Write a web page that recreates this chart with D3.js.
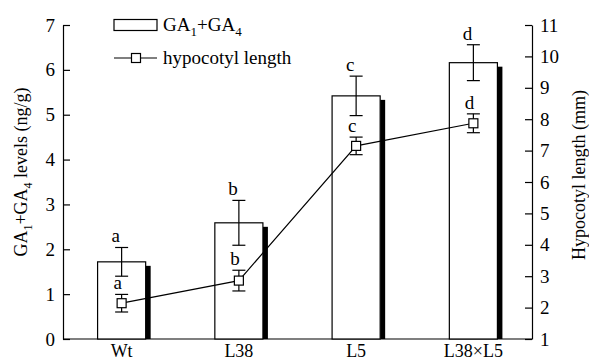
<!DOCTYPE html>
<html>
<head>
<meta charset="utf-8">
<script src="https://cdn.jsdelivr.net/npm/d3@7"></script>
<style>
  body { margin: 0; background: #fff; }
  svg { display: block; font-family: "Liberation Serif", "DejaVu Serif", serif; }
  .axis path, .axis line { stroke: #000; stroke-width: 1.2; }
</style>
</head>
<body>
<div id="container"></div>
<script>
const categories = ['Wt', 'L38', 'L5', 'L38×L5'];
const gaLevels = [1.72, 2.59, 5.42, 6.16];
const gaErr = [0.32, 0.5, 0.44, 0.4];
const gaLetters = ['a', 'b', 'c', 'd'];
const hypLength = [2.14, 2.86, 7.15, 7.87];
const hypErr = [0.28, 0.33, 0.28, 0.3];
const hypLetters = ['a', 'b', 'c', 'd'];
const leftTicks = [0, 1, 2, 3, 4, 5, 6, 7];
const rightTicks = [1, 2, 3, 4, 5, 6, 7, 8, 9, 10, 11];

const width = 589, height = 362;
const plotL = 63, plotR = 532, plotT = 25, plotB = 339;
const cap = 6.5;
const shadowW = 5, shadowDrop = 4;
const serif = '"Liberation Serif", "DejaVu Serif", serif';

const svg = d3.select('#container').append('svg')
    .attr('width', width)
    .attr('height', height);

const x = d3.scaleBand().domain(categories).range([plotL, plotR])
    .paddingInner(0.59).paddingOuter(0.295);
const yL = d3.scaleLinear().domain([0, 7]).range([plotB, plotT]);
const yR = d3.scaleLinear().domain([1, 11]).range([plotB, plotT]);

const data = categories.map((c, i) => ({
    cat: c, ga: gaLevels[i], gaE: gaErr[i], gaL: gaLetters[i],
    hyp: hypLength[i], hypE: hypErr[i], hypL: hypLetters[i]
}));

// axes, ticks pointing inward
svg.append('g').attr('class', 'axis')
    .attr('transform', `translate(${plotL} 0)`)
    .call(d3.axisLeft(yL).tickValues(leftTicks).tickFormat(d3.format('d'))
        .tickSize(-7).tickSizeOuter(0).tickPadding(8));
svg.append('g').attr('class', 'axis')
    .attr('transform', `translate(${plotR} 0)`)
    .call(d3.axisRight(yR).tickValues(rightTicks).tickFormat(d3.format('d'))
        .tickSize(-7).tickSizeOuter(0).tickPadding(8));

svg.selectAll('.axis text')
    .style('fill', '#000')
    .style('font-family', serif)
    .style('font-size', '19px');

svg.append('line')
    .attr('x1', plotL).attr('x2', plotR)
    .attr('y1', plotB).attr('y2', plotB)
    .style('stroke', '#000').style('stroke-width', 1.2);

svg.append('g').selectAll('text').data(categories).enter().append('text')
    .attr('x', (d) => x(d) + x.bandwidth() / 2)
    .attr('y', 357)
    .attr('text-anchor', 'middle')
    .style('font-size', '18px')
    .text((d) => d);

// bars with a drop shadow on the right
const bars = svg.append('g').selectAll('g').data(data).enter().append('g');

bars.append('rect')
    .attr('x', (d) => x(d.cat) + x.bandwidth())
    .attr('y', (d) => yL(d.ga) + shadowDrop)
    .attr('width', shadowW)
    .attr('height', (d) => plotB - yL(d.ga) - shadowDrop)
    .style('fill', '#000');

bars.append('rect')
    .attr('x', (d) => x(d.cat))
    .attr('y', (d) => yL(d.ga))
    .attr('width', x.bandwidth())
    .attr('height', (d) => plotB - yL(d.ga))
    .style('fill', '#fff')
    .style('stroke', '#000')
    .style('stroke-width', 1.2);

function errorBars(sel, cx, lo, hi) {
    sel.append('line')
        .attr('x1', cx).attr('x2', cx).attr('y1', lo).attr('y2', hi);
    sel.append('line')
        .attr('x1', (d) => cx(d) - cap).attr('x2', (d) => cx(d) + cap).attr('y1', lo).attr('y2', lo);
    sel.append('line')
        .attr('x1', (d) => cx(d) - cap).attr('x2', (d) => cx(d) + cap).attr('y1', hi).attr('y2', hi);
    sel.selectAll('line').style('stroke', '#000').style('stroke-width', 1.2);
}

const mid = (d) => x(d.cat) + x.bandwidth() / 2;

errorBars(bars.append('g'), mid, (d) => yL(d.ga - d.gaE), (d) => yL(d.ga + d.gaE));

bars.append('text')
    .attr('x', (d) => mid(d) - 6)
    .attr('y', (d) => yL(d.ga + d.gaE) - 5)
    .attr('text-anchor', 'middle')
    .style('font-size', '19px')
    .text((d) => d.gaL);

// hypocotyl length line
const line = d3.line().x(mid).y((d) => yR(d.hyp));
svg.append('path').datum(data)
    .attr('d', line)
    .style('fill', 'none')
    .style('stroke', '#000')
    .style('stroke-width', 1.2);

const pts = svg.append('g').selectAll('g').data(data).enter().append('g');
errorBars(pts.append('g'), mid, (d) => yR(d.hyp - d.hypE), (d) => yR(d.hyp + d.hypE));
pts.append('rect')
    .attr('x', (d) => mid(d) - 4.5)
    .attr('y', (d) => yR(d.hyp) - 4.5)
    .attr('width', 9).attr('height', 9)
    .style('fill', '#fff').style('stroke', '#000').style('stroke-width', 1.2);
pts.append('text')
    .attr('x', (d) => mid(d) - 4)
    .attr('y', (d) => yR(d.hyp + d.hypE) - 5)
    .attr('text-anchor', 'middle')
    .style('font-size', '19px')
    .text((d) => d.hypL);

// axis titles
const lt = svg.append('text')
    .attr('transform', 'translate(27 172) rotate(-90)')
    .attr('text-anchor', 'middle')
    .style('font-size', '18px');
lt.append('tspan').text('GA');
lt.append('tspan').attr('dy', 5).style('font-size', '12px').text('1');
lt.append('tspan').attr('dy', -5).text('+GA');
lt.append('tspan').attr('dy', 5).style('font-size', '12px').text('4');
lt.append('tspan').attr('dy', -5).text(' levels (ng/g)');

svg.append('text')
    .attr('transform', 'translate(585 175) rotate(-90)')
    .attr('text-anchor', 'middle')
    .style('font-size', '18px')
    .text('Hypocotyl length (mm)');

// legend
const lg = svg.append('g');
lg.append('rect')
    .attr('x', 114).attr('y', 19.5).attr('width', 43).attr('height', 11)
    .style('fill', '#fff').style('stroke', '#000').style('stroke-width', 1.2);
const lgt = lg.append('text').attr('x', 163).attr('y', 31).style('font-size', '19px');
lgt.append('tspan').text('GA');
lgt.append('tspan').attr('dy', 5).style('font-size', '13px').text('1');
lgt.append('tspan').attr('dy', -5).text('+GA');
lgt.append('tspan').attr('dy', 5).style('font-size', '13px').text('4');

lg.append('line')
    .attr('x1', 114).attr('x2', 157).attr('y1', 58).attr('y2', 58)
    .style('stroke', '#000').style('stroke-width', 1.2);
lg.append('rect')
    .attr('x', 131.5).attr('y', 53.5).attr('width', 9).attr('height', 9)
    .style('fill', '#fff').style('stroke', '#000').style('stroke-width', 1.2);
lg.append('text').attr('x', 163).attr('y', 64).style('font-size', '19px')
    .text('hypocotyl length');
</script>
</body>
</html>
